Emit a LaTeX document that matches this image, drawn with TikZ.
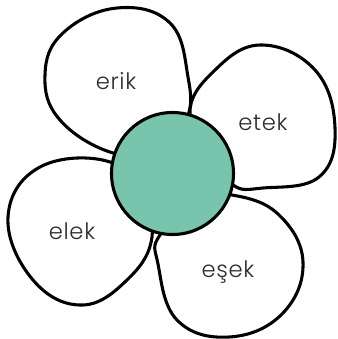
\documentclass[tikz,border=0pt]{standalone}
\usepackage{fontspec}
\setmainfont{Poppins}[UprightFont=* Light, LetterSpace=3]
\tikzset{every picture/.style={line width=0.75pt}}
\tikzset{
  petal/.style={draw=black, fill=white, line width=2.3pt, line join=round},
  heart/.style={draw=black, fill={rgb,255:red,120; green,196; blue,172}, line width=2.3pt},
  word/.style={anchor=base, inner sep=0.75pt, font=\fontsize{17}{20}\selectfont, text={rgb,255:red,45; green,45; blue,45}}
}

\begin{document}
\begin{tikzpicture}[x=0.75pt,y=0.75pt,yscale=-1,xscale=1]
\useasboundingbox (0,0) rectangle (338,339);

%Shape: Petal top left
\draw [petal] plot [smooth cycle, tension=0.7] coordinates {(160,150) (113,153) (60,120) (45,75) (63,33) (117,8) (170,23) (188,77) (187,118)};
%Shape: Petal top right
\draw [petal] plot [smooth cycle, tension=0.7] coordinates {(215,155) (190,113) (213,72) (260,45) (315,70) (335,128) (319,177) (263,188) (233,185)};
%Shape: Petal bottom left
\draw [petal] plot [smooth cycle, tension=0.7] coordinates {(140,200) (110,162) (40,167) (8,217) (33,280) (83,305) (130,277) (152,237)};
%Shape: Petal bottom right
\draw [petal] plot [smooth cycle, tension=0.7] coordinates {(200,200) (232,195) (278,214) (303,262) (282,314) (229,337) (177,320) (158,264) (160,235)};
%Shape: Circle
\draw [heart] (172.5,173.5) circle [radius=61];

% Text Node
\node [word] (erik) at (116,89) {erik};
% Text Node
\node [word] (etek) at (263,130) {etek};
% Text Node
\node [word] (elek) at (72,239) {elek};
% Text Node
\node [word] (esek) at (228,277) {eşek};

\end{tikzpicture}
\end{document}
